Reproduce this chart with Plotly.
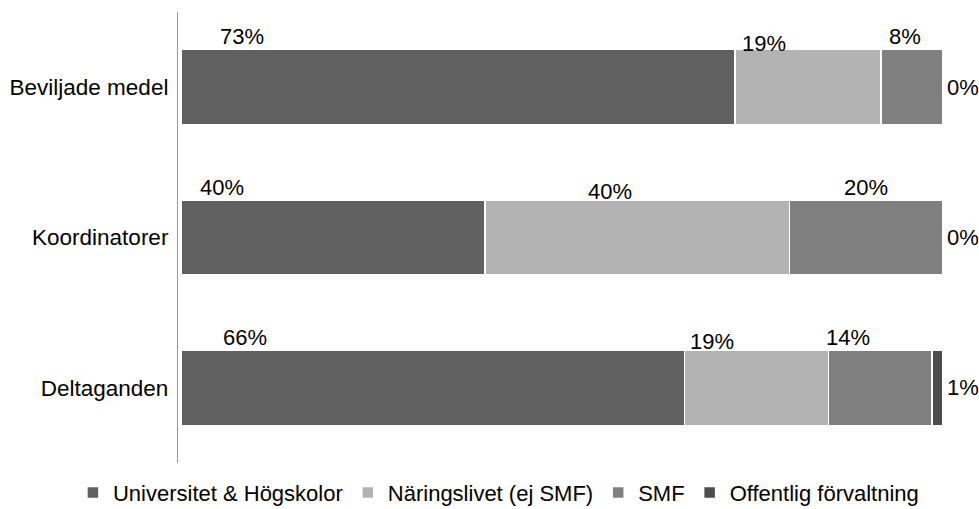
import plotly.graph_objects as go

categories = ["Beviljade medel", "Koordinatorer", "Deltaganden"]
series_names = ["Universitet & Högskolor", "Näringslivet (ej SMF)", "SMF", "Offentlig förvaltning"]
universitet = [72.7, 39.9, 66.1]
naringsliv = [19.2, 40.0, 18.9]
smf = [8.1, 20.1, 13.6]
offentlig = [0.0, 0.0, 1.4]
label_texts = [["73%", "19%", "8%", "0%"],
               ["40%", "40%", "20%", "0%"],
               ["66%", "19%", "14%", "1%"]]
# label positions (in axis percent) as placed in the original chart
label_x = [[8.0, 76.5, 95.0, 102.6],
           [5.4, 56.3, 89.9, 102.6],
           [8.4, 69.7, 87.5, 102.6]]
label_shift = [[51, 44, 51, 0],
               [50, 46, 50, 0],
               [50, 46, 50, 0]]

colors = ["#606060", "#b3b3b3", "#808080", "#4d4d4d"]
values = [universitet, naringsliv, smf, offentlig]

FONT = "Liberation Sans, Arial, sans-serif"
FS = 22

fig = go.Figure()
for name, vals, col in zip(series_names, values, colors):
    fig.add_trace(go.Bar(
        y=categories, x=vals, name=name, orientation="h",
        marker=dict(color=col, line=dict(color="white", width=1.5)),
        hoverinfo="skip",
    ))

annotations = []
for i, cat in enumerate(categories):
    for j in range(4):
        annotations.append(dict(
            x=label_x[i][j], y=cat, xref="x", yref="y",
            text=label_texts[i][j], showarrow=False,
            yshift=label_shift[i][j],
            font=dict(size=FS, color="#000000", family=FONT),
        ))

fig.update_layout(
    barmode="stack",
    bargap=0.5,
    width=979, height=509,
    margin=dict(l=178, r=2, t=12, b=46, autoexpand=False),
    paper_bgcolor="white", plot_bgcolor="white",
    font=dict(family=FONT, size=FS, color="#000000"),
    annotations=annotations,
    showlegend=True,
    legend=dict(orientation="h", x=-0.1315, xanchor="left", y=-0.066, yanchor="middle",
                font=dict(size=FS, family=FONT, color="#000000"),
                itemwidth=30, traceorder="normal"),
    xaxis=dict(range=[-0.4, 104.5], showgrid=False, zeroline=False, showticklabels=False,
               showline=False, fixedrange=True, automargin=False),
    yaxis=dict(categoryorder="array", categoryarray=categories, autorange="reversed",
               showgrid=False, zeroline=False, showline=True, linecolor="#999999",
               linewidth=1.2, ticks="", ticklabelstandoff=4, automargin=False,
               fixedrange=True,
               tickfont=dict(size=22.5, family=FONT, color="#000000")),
)

fig.write_html("out.html", config={"displayModeBar": False},
               post_script="document.body.style.margin='0';document.body.style.overflow='hidden';")
